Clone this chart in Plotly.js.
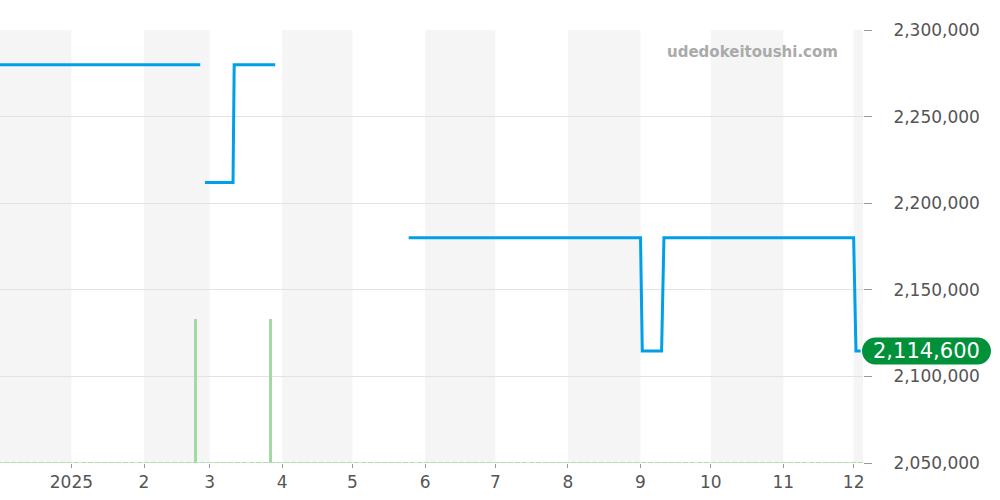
<!DOCTYPE html>
<html>
<head>
<meta charset="utf-8">
<script src="https://cdn.plot.ly/plotly-3.0.1.min.js"></script>
<style>html,body{margin:0;padding:0;background:#fff;}#chart{width:1000px;height:500px;}</style>
</head>
<body>
<div id="chart"></div>
<script>
// Price line (null = gap)
const priceDates = ['2024-11-30','2025-02-25',null,'2025-02-27','2025-03-11','2025-03-11 12:00','2025-03-29',null,
  '2025-05-25','2025-09-01','2025-09-01 18:00','2025-09-10','2025-09-11','2025-12-01','2025-12-02','2025-12-04'];
const priceValues = [2280000,2280000,null,2212000,2212000,2280000,2280000,null,
  2180000,2180000,2114600,2114600,2180000,2180000,2114600,2114600];
// Volume bars
const volDates = ['2025-02-23','2025-03-27'];
const volValues = [1,1];
// Month ticks
const tickDates = ['2025-01-01','2025-02-01','2025-03-01','2025-04-01','2025-05-01','2025-06-01','2025-07-01','2025-08-01','2025-09-01','2025-10-01','2025-11-01','2025-12-01'];
const tickLabels = ['2025','2','3','4','5','6','7','8','9','10','11','12'];
// Shaded month bands [start,end]
const shadeStarts = ['2024-12-01','2025-02-01','2025-04-01','2025-06-01','2025-08-01','2025-10-01','2025-12-01'];
const shadeEnds   = ['2025-01-01','2025-03-01','2025-05-01','2025-07-01','2025-09-01','2025-11-01','2026-01-01'];
const yTicks = [2050000,2100000,2150000,2200000,2250000,2300000];
const yTickLabels = ['2,050,000','2,100,000','2,150,000','2,200,000','2,250,000','2,300,000'];
const lastPrice = 2114600;
const lastLabel = '2,114,600';
const watermark = 'udedokeitoushi.com';

const blue = '#00a0e9', green = '#00913a';

const shapes = shadeStarts.map((s,i)=>({type:'rect',xref:'x',yref:'paper',x0:s,x1:shadeEnds[i],y0:0,y1:1,
  fillcolor:'#f5f5f5',line:{width:0},layer:'below'}));
const r = 13.5, w = 128, k = 0.5523*r;
shapes.push({type:'path',xref:'paper',yref:'y',xsizemode:'pixel',ysizemode:'pixel',xanchor:1,yanchor:lastPrice,
  path:`M ${r-1},${-r} L ${w-r},${-r} C ${w-r+k},${-r} ${w},${-k} ${w},0 C ${w},${k} ${w-r+k},${r} ${w-r},${r} L ${r-1},${r} C ${r-1-k},${r} -1,${k} -1,0 C -1,${-k} ${r-1-k},${-r} ${r-1},${-r} Z`,
  fillcolor:green,line:{width:0},layer:'above'});

const traces = [
  {x:['2024-11-30','2025-12-05'],y:[0,0],type:'scatter',mode:'lines',yaxis:'y2',line:{color:'#b0dcb0',width:2,dash:'6px,1px'},hoverinfo:'skip'},
  {x:volDates,y:volValues,type:'bar',yaxis:'y2',marker:{color:'#a3daa3',line:{width:0}},width:86400000,hoverinfo:'skip'},
  {x:priceDates,y:priceValues,type:'scatter',mode:'lines',line:{color:blue,width:3},connectgaps:false}
];

const layout = {
  width:1000,height:500,
  margin:{l:0,r:137,t:30,b:37},
  paper_bgcolor:'#fff',plot_bgcolor:'#fff',
  showlegend:false,
  font:{family:'DejaVu Sans',size:17,color:'#555'},
  xaxis:{type:'date',range:['2024-12-01 12:00','2025-12-05'],tickvals:tickDates,ticktext:tickLabels,
    ticks:'outside',ticklen:4,tickcolor:'#999',showgrid:false,zeroline:false,showline:false,
    tickfont:{size:17,color:'#555'}},
  yaxis:{side:'right',range:[2050000,2300000],tickvals:yTicks,ticktext:yTickLabels,
    ticks:'outside',ticklen:8,tickcolor:'#999',showgrid:true,gridcolor:'#e2e2e2',gridwidth:1,
    zeroline:false,showline:false,tickfont:{size:17,color:'#555'},ticklabelstandoff:18},
  yaxis2:{overlaying:'y',range:[0,3],visible:false,showgrid:false},
  shapes:shapes,
  annotations:[
    {xref:'paper',yref:'y',x:1,y:lastPrice,xanchor:'center',yanchor:'middle',xshift:63.5,text:lastLabel,
     showarrow:false,font:{family:'DejaVu Sans',size:21,color:'#fff'}},
    {xref:'paper',yref:'paper',x:840/863,y:(463-52)/433,xanchor:'right',yanchor:'middle',text:'<b>'+watermark+'</b>',
     showarrow:false,font:{family:'DejaVu Sans',size:15,color:'#aaa'}}
  ],
  bargap:0
};
Plotly.newPlot('chart',traces,layout,{displayModeBar:false,staticPlot:true});
</script>
</body>
</html>
